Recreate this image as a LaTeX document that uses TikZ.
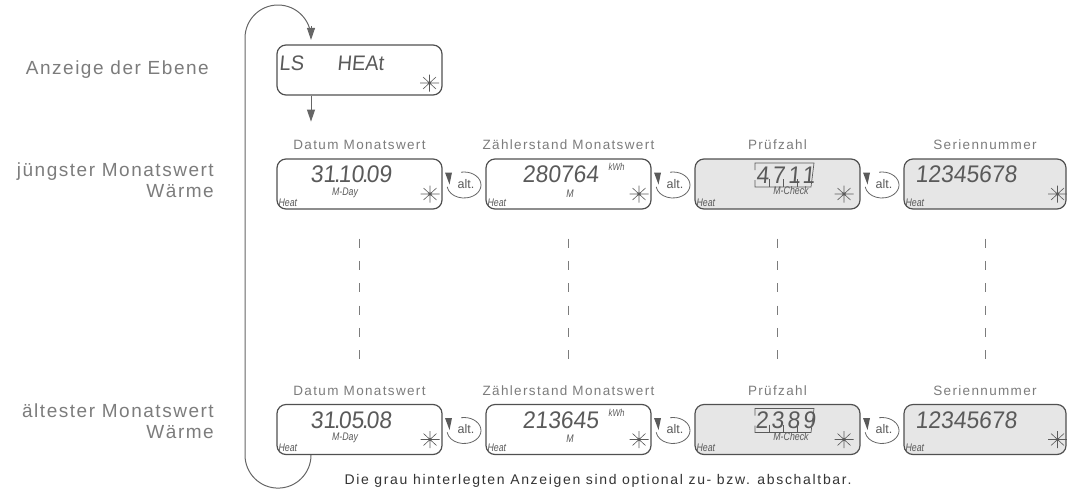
\documentclass[tikz,border=0pt]{standalone}
\usepackage{fontspec}
\setmainfont{Liberation Sans}
\newfontfamily\labelfont{Liberation Sans}[LetterSpace=8]
\newfontfamily\titlefont{Liberation Sans}[LetterSpace=10]
\newfontfamily\notefont{Liberation Sans}[LetterSpace=12]
\newfontfamily\segfont{Liberation Sans}[FakeSlant=0.1]
\newfontfamily\cellfont{Liberation Sans}[FakeSlant=0.1, LetterSpace=14]
\usetikzlibrary{arrows.meta,calc}

\definecolor{txtgray}{HTML}{7C7C7C}
\definecolor{framegray}{HTML}{505050}
\definecolor{seggray}{HTML}{5A5A5A}
\definecolor{linegray}{HTML}{666666}
\definecolor{optfill}{HTML}{E6E6E6}

\tikzset{
  lcd/.style={draw=framegray, line width=1.2pt, rounded corners=9pt,
    minimum width=165pt, minimum height=50pt, inner sep=0pt},
  lcdopt/.style={lcd, fill=optfill},
  seg/.style={text=seggray, font=\segfont\fontsize{24}{24}\selectfont,
    inner sep=0pt, xscale=0.95, text height=17.2pt, text depth=0pt},
  segcell/.style={seg, font=\cellfont\fontsize{24}{24}\selectfont},
  segsmall/.style={seg, font=\segfont\fontsize{21}{21}\selectfont, xscale=1,
    text height=15pt},
  mini/.style={text=seggray, font=\itshape\fontsize{11}{11}\selectfont,
    inner sep=0pt, xscale=0.8, text height=8pt, text depth=0.5pt},
  lbl/.style={text=txtgray, font=\labelfont\fontsize{19}{21}\selectfont,
    inner sep=0pt, align=right, anchor=east},
  ttl/.style={text=txtgray, font=\titlefont\fontsize{13.5}{15}\selectfont,
    inner sep=0pt},
  note/.style={text=black!80, font=\notefont\fontsize{14}{16}\selectfont,
    inner sep=0pt},
  conn/.style={draw=linegray, line width=1pt},
  tip/.style={-{Triangle[length=12pt,width=8pt]}},
  ray/.style={draw=seggray, line width=0.6pt},
  cellframe/.style={draw=seggray, line width=0.7pt},
  dotline/.style={draw=txtgray, line width=1pt, dash pattern=on 9pt off 13.3pt},
  altloop/.style={draw=linegray, line width=0.8pt},
  alttext/.style={text=seggray, font=\fontsize{12.5}{12.5}\selectfont, inner sep=0pt},
}

% sun symbol in the lower right corner of a display
\newcommand\lcdstar[1]{%
  \draw[ray] (#1) +(-9.5,0) -- +(9.5,0) +(0,-8.5) -- +(0,8.5)
    +(-6.5,-6) -- +(6.5,6) +(-6.5,6) -- +(6.5,-6);
  \fill[seggray] (#1) circle[radius=1.6];}

% "alt." key symbol: open loop with a small triangle
\newcommand\altkey[2]{%
  \node[alttext] (#1) at (#2) {alt.};
  \draw[altloop] ($(#1)+(-2,1)$) ++(-100:17 and 13)
    arc[start angle=-100, end angle=172, x radius=17, y radius=13];
  \fill[seggray] ($(#1)+(-21,-11.5)$) -- ++(7,0) -- ++(-2.5,12) -- cycle;}

% the four displays of one month
\newcommand\monthrow[5]{%
  % #1 prefix, #2 date, #3 meter value, #4 check number, #5 serial
  \node[ttl] (#1t1) at (359.5,145) {Datum Monatswert};
  \node[ttl] (#1t2) at (568.5,145) {Zählerstand Monatswert};
  \node[ttl] (#1t3) at (777.5,145) {Prüfzahl};
  \node[ttl] (#1t4) at (985,145) {Seriennummer};
  \node[lcd] (#1b1) at (359.5,184) {};
  \node[lcd] (#1b2) at (568.5,184) {};
  \node[lcdopt] (#1b3) at (777.5,184) {};
  \node[lcdopt, minimum width=162pt] (#1b4) at (985,184) {};
  % date display
  \node[seg] (#1v1) at ($(#1b1)+(-8.5,-10)$) {#2};
  \node[mini] (#1s1) at ($(#1b1)+(-14.5,7.5)$) {M-Day};
  % meter display
  \node[seg] (#1v2) at ($(#1b2)+(-8,-10)$) {#3};
  \node[mini, font=\itshape\fontsize{10}{10}\selectfont] (#1u2) at ($(#1b2)+(48,-17)$) {kWh};
  \node[mini] (#1s2) at ($(#1b2)+(1.5,9.5)$) {M};
  % check number display
  \node[segcell] (#1v3) at ($(#1b3)+(8,-9.5)$) {#4};
  \node[mini] (#1s3) at ($(#1b3)+(13.5,7)$) {M-Check};
  \draw[cellframe] ($(#1b3)+(-22.5,-14)$) -- ++(0,-7) -- ++(59,0) -- ++(-3,24)
    -- ++(-56,0) -- ++(0,-7);
  \draw[cellframe] ($(#1b3)+(-8.5,-5)$) -- ++(0,8) ($(#1b3)+(5.5,-5)$) -- ++(0,8)
    ($(#1b3)+(19.5,-5)$) -- ++(0,8);
  % serial number display
  \node[seg] (#1v4) at ($(#1b4)+(-19,-10)$) {#5};
  % common marks
  \foreach \b in {1,2,3,4}{
    \node[mini, anchor=west] (#1h\b) at ($(#1b\b.west)+(2,18.5)$) {Heat};
  }
  \coordinate (#1k1) at ($(#1b1)+(70.5,10)$);
  \coordinate (#1k2) at ($(#1b2)+(70.5,10)$);
  \coordinate (#1k3) at ($(#1b3)+(66.5,10)$);
  \coordinate (#1k4) at ($(#1b4)+(72.5,10)$);
  \lcdstar{#1k1}\lcdstar{#1k2}\lcdstar{#1k3}\lcdstar{#1k4}
  \altkey{#1a1}{466,184}
  \altkey{#1a2}{675,184}
  \altkey{#1a3}{884,184}}

\begin{document}
\begin{tikzpicture}[x=1pt, y=-1pt]
\useasboundingbox (0,0) rectangle (1067,493);

% row labels
\node[lbl] (lvl) at (209,69.5) {Anzeige der Ebene};
\node[lbl] (newest) at (214,180) {jüngster Monatswert\\Wärme};
\node[lbl] (oldest) at (214,421.5) {ältester Monatswert\\Wärme};

% level display
\node[lcd] (ls) at (359.5,70) {};
\node[segsmall, anchor=west] (lsa) at (279,62.5) {LS};
\node[segsmall, anchor=west] (lsb) at (337,62.5) {HEAt};
\coordinate (lsk) at ($(ls)+(70,13)$);
\lcdstar{lsk}

% newest and oldest month
\monthrow{r}{31\kern-2pt.\kern-2pt10\kern-2pt.\kern-2pt09}{280764}{4711}{12345678}
\begin{scope}[yshift=-245.5pt]
\monthrow{s}{31\kern-2pt.\kern-2pt05\kern-2pt.\kern-2pt08}{213645}{2389}{12345678}
\end{scope}

% intermediate months
\foreach \b in {1,2,3,4}{
  \draw[dotline] ($(rb\b.south)+(0,29)$) coordinate (up\b) -- ($(rb\b.south)+(0,149.5)$) coordinate (dn\b);
}

% flow: level display -> newest month, oldest month back to level display
\coordinate (lsin) at ($(ls.north)+(-48.5,-18)$);
\draw[conn] ($(sb1.south)+(-48.5,0)$) arc[start angle=0, end angle=180, radius=33]
  -- (245,38) arc[start angle=180, end angle=360, radius=33];
\draw[conn, tip] (lsin) -- ($(ls.north)+(-48.5,-4.5)$);
\coordinate (lsout) at ($(ls.south)+(-48.5,26)$);
\draw[conn, tip] ($(ls.south)+(-48.5,0)$) -- (lsout);

% footnote
\node[note] (foot) at (598,481) {Die grau hinterlegten Anzeigen sind optional zu- bzw. abschaltbar.};
\end{tikzpicture}
\end{document}
